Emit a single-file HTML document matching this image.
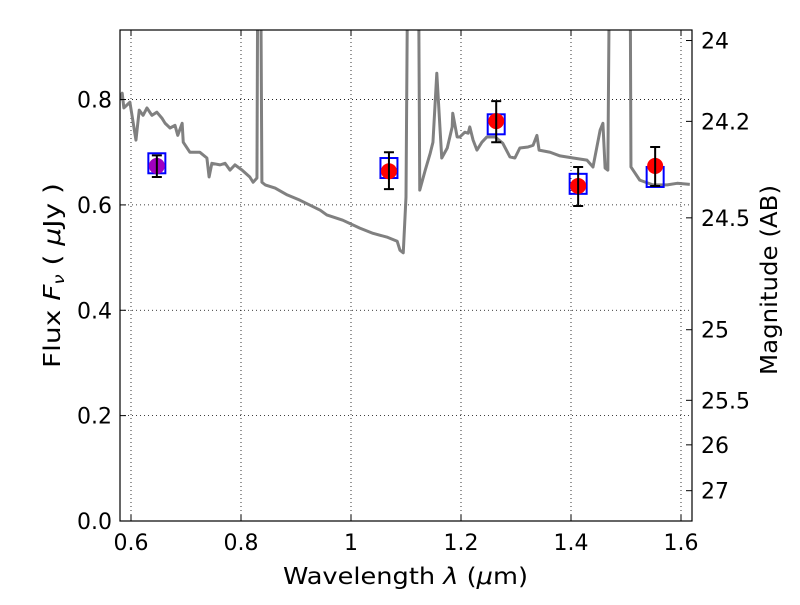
<!DOCTYPE html>
<html><head><meta charset="utf-8"><style>
body{margin:0;background:#fff}
svg text{font-family:"DejaVu Sans","Liberation Sans",sans-serif;fill:#000}
</style></head><body>
<svg id="chart" width="800" height="600" xmlns="http://www.w3.org/2000/svg">
<g id="grid"></g>
<g id="spec"></g>
<g id="pts"></g>
<g id="axes"></g>
<text x="283" y="584" font-size="23" textLength="245" lengthAdjust="spacingAndGlyphs">Wavelength  <tspan font-style="italic">λ</tspan> (<tspan font-style="italic">μ</tspan>m)</text>
<text transform="translate(60,368) rotate(-90)" font-size="23" textLength="185" lengthAdjust="spacingAndGlyphs">Flux  <tspan font-style="italic">F</tspan><tspan font-style="italic" font-size="15" dy="4">ν</tspan><tspan dy="-4">  ( </tspan><tspan font-style="italic">μ</tspan>Jy )</text>
<text transform="translate(777,375) rotate(-90)" font-size="23" textLength="190" lengthAdjust="spacingAndGlyphs">Magnitude (AB)</text>
</svg>
<script>
const specLam=[0.580,0.584,0.587,0.598,0.609,0.615,0.622,0.629,0.638,0.647,0.656,0.662,0.671,0.680,0.685,0.693,0.695,0.707,0.725,0.738,0.742,0.747,0.762,0.771,0.780,0.789,0.802,0.816,0.822,0.829,0.831,0.835,0.838,0.844,0.862,0.884,0.907,0.944,0.956,0.985,1.016,1.040,1.065,1.084,1.089,1.095,1.100,1.104,1.122,1.125,1.135,1.144,1.149,1.156,1.162,1.165,1.175,1.184,1.185,1.193,1.198,1.207,1.213,1.216,1.222,1.229,1.238,1.247,1.262,1.276,1.289,1.298,1.307,1.322,1.331,1.338,1.342,1.362,1.380,1.404,1.429,1.440,1.453,1.458,1.462,1.467,1.471,1.507,1.509,1.525,1.549,1.575,1.593,1.616];
const specFlux=[0.799,0.812,0.784,0.795,0.723,0.780,0.770,0.784,0.770,0.776,0.765,0.755,0.746,0.751,0.732,0.755,0.719,0.700,0.700,0.689,0.653,0.679,0.676,0.679,0.666,0.676,0.666,0.653,0.643,0.651,1.2,1.2,0.643,0.638,0.632,0.619,0.609,0.590,0.581,0.571,0.556,0.546,0.539,0.531,0.514,0.509,0.615,1.2,1.2,0.628,0.666,0.698,0.719,0.850,0.742,0.689,0.708,0.748,0.774,0.729,0.729,0.738,0.736,0.748,0.723,0.704,0.719,0.729,0.729,0.717,0.691,0.689,0.708,0.710,0.713,0.732,0.704,0.700,0.693,0.689,0.685,0.672,0.742,0.755,0.670,0.666,1.2,1.2,0.672,0.647,0.638,0.638,0.641,0.639];
const ptLam=[0.647,1.069,1.264,1.413,1.553];
const ptFlux=[0.674,0.664,0.759,0.636,0.674];
const ptErrLo=[0.653,0.630,0.719,0.598,0.636];
const ptErrHi=[0.694,0.700,0.797,0.672,0.710];
const modelFlux=[0.679,0.670,0.753,0.640,0.653];
const ptColors=['#a000c0','red','red','red','red'];
const xTicks=[0.6,0.8,1.0,1.2,1.4,1.6];
const xTickLabels=['0.6','0.8','1','1.2','1.4','1.6'];
const yTicks=[0,0.2,0.4,0.6,0.8];
const yTickLabels=['0.0','0.2','0.4','0.6','0.8'];
const magTicks=[24,24.2,24.5,25,25.5,26,27];
const magTickLabels=['24','24.2','24.5','25','25.5','26','27'];

const L=120,R=692,T=30,B=521,X0=0.58,X1=1.62,Y0=0,Y1=0.932;
const NS='http://www.w3.org/2000/svg';
const sx=v=>L+(v-X0)/(X1-X0)*(R-L);
const sy=v=>B-(v-Y0)/(Y1-Y0)*(B-T);
function mk(tag,attrs,parent){const e=document.createElementNS(NS,tag);for(const k in attrs)e.setAttribute(k,attrs[k]);parent.appendChild(e);return e;}
const grid=document.getElementById('grid'),axes=document.getElementById('axes'),spec=document.getElementById('spec'),pts=document.getElementById('pts');
const defs=mk('defs',{},document.getElementById('chart'));
const cp=mk('clipPath',{id:'cp'},defs);mk('rect',{x:L,y:T,width:R-L,height:B-T},cp);
spec.setAttribute('clip-path','url(#cp)');
xTicks.forEach((t,i)=>{const x=sx(t);
 const g=mk('line',{x1:x,x2:x,y1:T,y2:B,stroke:'#000','stroke-width':0.8,'stroke-dasharray':'1,3'},grid);
 
 mk('line',{x1:x,x2:x,y1:B,y2:B-6,stroke:'#000'},axes);mk('line',{x1:x,x2:x,y1:T,y2:T+6,stroke:'#000'},axes);
 const tx=mk('text',{x:x,y:B+29,'font-size':22,'text-anchor':'middle'},axes);tx.textContent=xTickLabels[i];
 });
yTicks.forEach((t,i)=>{const y=sy(t);
 const g=mk('line',{x1:L,x2:R,y1:y,y2:y,stroke:'#000','stroke-width':0.8,'stroke-dasharray':'1,3'},grid);
 
 mk('line',{x1:L,x2:L+6,y1:y,y2:y,stroke:'#000'},axes);
 const tx=mk('text',{x:L-8,y:y+8,'font-size':22,'text-anchor':'end'},axes);tx.textContent=yTickLabels[i];
 });
magTicks.forEach((m,i)=>{const f=Math.pow(10,(23.9-m)/2.5);const y=sy(f);
 mk('line',{x1:R,x2:R-6,y1:y,y2:y,stroke:'#000'},axes);
 const tx=mk('text',{x:R+9,y:y+8,'font-size':22},axes);tx.textContent=magTickLabels[i];
 });
const fr=mk('rect',{x:L,y:T,width:R-L,height:B-T,fill:'none',stroke:'#000','stroke-width':1.2},axes);

const p=mk('polyline',{points:specLam.map((l,i)=>sx(l)+','+sy(specFlux[i])).join(' '),fill:'none',stroke:'#808080','stroke-width':3,'stroke-linejoin':'round'},spec);

ptLam.forEach((l,i)=>{const x=sx(l);
 const b=mk('rect',{x:x-8.5,y:sy(modelFlux[i])-10,width:17,height:20,fill:'none',stroke:'blue','stroke-width':2},pts);
 
 const c=mk('circle',{cx:x,cy:sy(ptFlux[i]),r:8,fill:ptColors[i]},pts);
 
 const yl=sy(ptErrLo[i]),yh=sy(ptErrHi[i]);
 const e=mk('path',{d:`M${x},${yl}V${yh}M${x-5},${yl}H${x+5}M${x-5},${yh}H${x+5}`,stroke:'#000','stroke-width':2,fill:'none'},pts);
 });
</script>
</body></html>
